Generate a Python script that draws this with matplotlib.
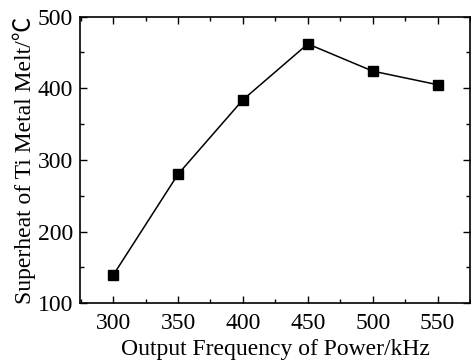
import matplotlib
matplotlib.use("Agg")
import matplotlib.pyplot as plt
from matplotlib.ticker import MultipleLocator

plt.rcParams['font.family'] = ['Liberation Serif', 'DejaVu Serif']

freq = [300, 350, 400, 450, 500, 550]
superheat = [139, 280, 384, 462, 424, 405]

fig = plt.figure(figsize=(4.71, 3.63), dpi=100)
ax = fig.add_axes([0.170, 0.165, 0.828, 0.789])

ax.plot(freq, superheat, "-s", color="black", linewidth=1.1,
        markersize=6.5, markerfacecolor="black", markeredgecolor="black")

ax.set_xlim(274.5, 575)
ax.set_ylim(100, 500)
ax.xaxis.set_major_locator(MultipleLocator(50))
ax.xaxis.set_minor_locator(MultipleLocator(25))
ax.yaxis.set_major_locator(MultipleLocator(100))
ax.yaxis.set_minor_locator(MultipleLocator(50))
ax.tick_params(which="both", direction="in", top=True, right=True,
               labelsize=17, width=1.0)
ax.tick_params(which="major", length=5)
ax.tick_params(which="minor", length=3)
ax.tick_params(axis="x", pad=7)
ax.tick_params(axis="y", pad=5)
for s in ax.spines.values():
    s.set_linewidth(1.2)

ax.set_xlabel("Output Frequency of Power/kHz", fontsize=17, labelpad=4)
ax.set_ylabel("Superheat of Ti Metal Melt/\u2103", fontsize=17, labelpad=1,
              family=['Liberation Serif', 'Noto Sans CJK SC', 'DejaVu Serif'])

fig.savefig("out.png", dpi=100)
